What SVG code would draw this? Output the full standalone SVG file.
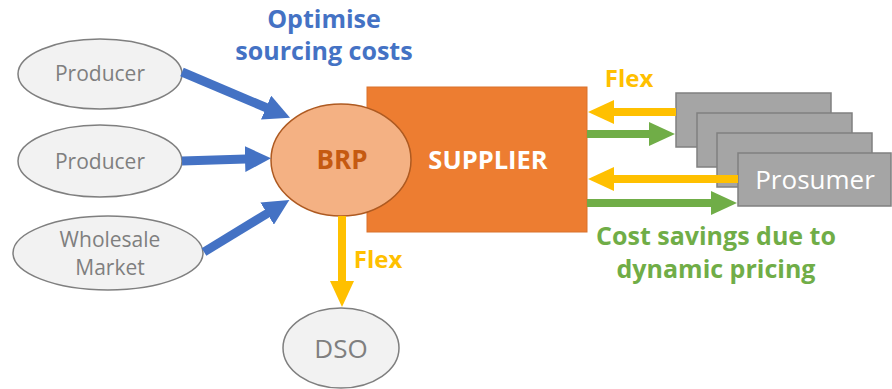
<svg xmlns="http://www.w3.org/2000/svg" width="892" height="389" viewBox="0 0 892 389">
<style>
.gray ellipse{fill:#F2F2F2;stroke:#7F7F7F;stroke-width:1.5}
.gt{font-family:"Open Sans","Liberation Sans",sans-serif;font-size:21px;fill:#7F7F7F;text-anchor:middle}
.pr{fill:#A5A5A5;stroke:#808080;stroke-width:1.5}
.b{font-family:"Open Sans","Liberation Sans",sans-serif;font-weight:bold;text-anchor:middle}
.blue{stroke:#4472C4;stroke-width:9;fill:none}
.yel{stroke:#FFC000;stroke-width:8;fill:none}
.grn{stroke:#70AD47;stroke-width:8;fill:none}
</style>
<defs>
<marker id="hb" markerUnits="userSpaceOnUse" viewBox="0 0 26 26" refX="1" refY="13" markerWidth="26" markerHeight="26" orient="auto"><path d="M0,0 L26,13 L0,26 z" fill="#4472C4"/></marker>
<marker id="hy" markerUnits="userSpaceOnUse" viewBox="0 0 26 24" refX="1" refY="12" markerWidth="26" markerHeight="24" orient="auto"><path d="M0,0 L26,12 L0,24 z" fill="#FFC000"/></marker>
<marker id="hg" markerUnits="userSpaceOnUse" viewBox="0 0 26 24" refX="1" refY="12" markerWidth="26" markerHeight="24" orient="auto"><path d="M0,0 L26,12 L0,24 z" fill="#70AD47"/></marker>
</defs>
<g id="producer1" class="gray"><ellipse cx="100" cy="74" rx="82" ry="35"/><text class="gt" x="100" y="81">Producer</text></g>
<g id="producer2" class="gray"><ellipse cx="100" cy="161" rx="82" ry="36"/><text class="gt" x="100" y="169">Producer</text></g>
<g id="wholesale" class="gray"><ellipse cx="108" cy="253" rx="95" ry="37"/><text class="gt" x="110" y="247">Wholesale</text><text class="gt" x="110" y="275">Market</text></g>
<g id="dso" class="gray"><ellipse cx="341" cy="348" rx="58" ry="40"/><text class="gt" x="341" y="358" style="font-size:26px">DSO</text></g>
<g id="supplier"><rect x="367" y="87" width="220" height="145" fill="#ED7D31" stroke="#D9722C" stroke-width="1"/><text class="b" x="488" y="169" fill="#FFFFFF" font-size="25.5">SUPPLIER</text></g>
<g id="brp"><ellipse cx="341" cy="160" rx="70" ry="56" fill="#F4B183" stroke="#AE5A21" stroke-width="1.5"/><text class="b" x="342" y="169" fill="#C55A11" font-size="26">BRP</text></g>
<g id="prosumers">
<rect class="pr" x="676" y="93" width="155" height="54"/>
<rect class="pr" x="697" y="113" width="155" height="54"/>
<rect class="pr" x="717" y="133" width="155" height="54"/>
<rect class="pr" x="738" y="153" width="153" height="53"/>
<text x="815" y="189" font-family="'Open Sans','Liberation Sans',sans-serif" font-size="26" fill="#FFFFFF" text-anchor="middle">Prosumer</text>
</g>
<g id="connectors">
<line class="blue" x1="182" y1="72" x2="267" y2="108" marker-end="url(#hb)"/>
<line class="blue" x1="182" y1="161" x2="246" y2="159" marker-end="url(#hb)"/>
<line class="blue" x1="204" y1="252" x2="268" y2="213" marker-end="url(#hb)"/>
<line class="yel" x1="342" y1="216" x2="342" y2="282" marker-end="url(#hy)"/>
<line class="yel" x1="676" y1="112" x2="613" y2="112" marker-end="url(#hy)"/>
<line class="grn" x1="587" y1="134" x2="650" y2="134" marker-end="url(#hg)"/>
<line class="yel" x1="738" y1="179" x2="613" y2="179" marker-end="url(#hy)"/>
<line class="grn" x1="587" y1="203" x2="712" y2="203" marker-end="url(#hg)"/>
</g>
<g id="labels">
<text class="b" x="324" y="28" fill="#4472C4" font-size="25">Optimise</text>
<text class="b" x="324" y="60" fill="#4472C4" font-size="25">sourcing costs</text>
<text class="b" x="629" y="87" fill="#FFC000" font-size="24">Flex</text>
<text class="b" x="378" y="268" fill="#FFC000" font-size="24">Flex</text>
<text class="b" x="716" y="245" fill="#70AD47" font-size="25">Cost savings due to</text>
<text class="b" x="716" y="278" fill="#70AD47" font-size="25">dynamic pricing</text>
</g>
</svg>
